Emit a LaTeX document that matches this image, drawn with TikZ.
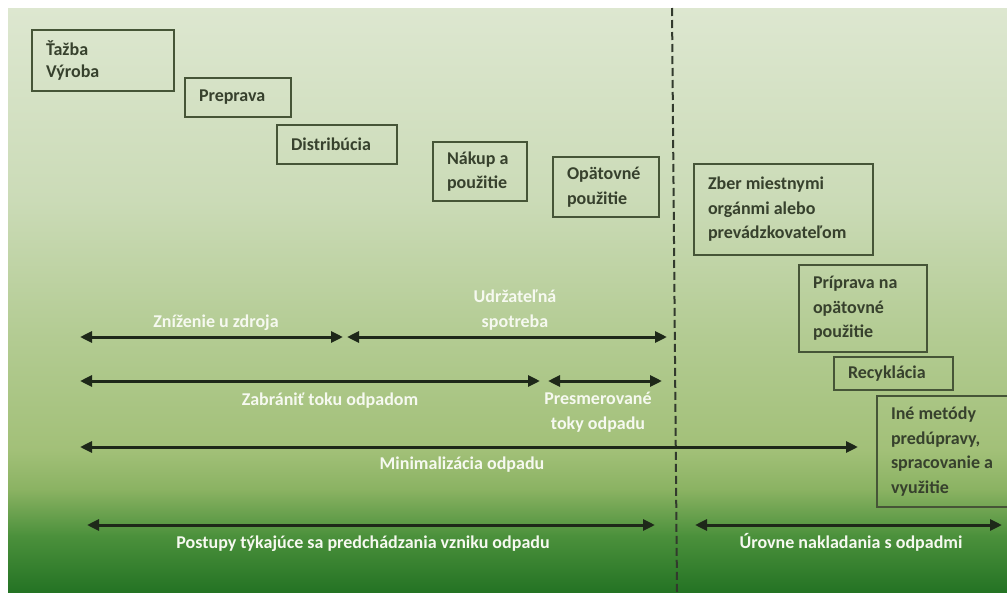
\documentclass[tikz,border=0pt]{standalone}
\usepackage{fontspec}
\setmainfont{Carlito}
\usetikzlibrary{arrows.meta}
\definecolor{g0}{RGB}{221,231,208}
\definecolor{g1}{RGB}{203,219,183}
\definecolor{g2}{RGB}{180,204,148}
\definecolor{g3}{RGB}{162,192,120}
\definecolor{g4}{RGB}{138,178,98}
\definecolor{g5}{RGB}{76,145,60}
\definecolor{g6}{RGB}{36,115,36}
\definecolor{boxc}{RGB}{70,85,55}
\definecolor{boxtext}{RGB}{55,65,45}
\definecolor{arrowc}{RGB}{30,40,25}
\definecolor{divc}{RGB}{50,58,45}
\definecolor{lblc}{RGB}{246,249,240}
\begin{document}
\begin{tikzpicture}[x=1pt,y=-1pt,
  stage/.style={draw=boxc, line width=2pt, anchor=north west, inner xsep=14pt, inner ysep=0pt,
    align=flush left, text=boxtext, font=\fontsize{18}{24.5}\selectfont\bfseries},
  lbl/.style={text=lblc, anchor=base, align=center, font=\fontsize{18}{24.5}\selectfont\bfseries},
  spanarrow/.style={line width=3pt, draw=arrowc, {Triangle[length=12pt,width=11pt]}-{Triangle[length=12pt,width=11pt]}},
  divider/.style={draw=divc, line width=2pt, dash pattern=on 8pt off 4pt}]
\useasboundingbox (0,0) rectangle (1007,592);
\clip (0,0) rectangle (1007,592);
\fill[white] (0,0) rectangle (1007,592);
% background gradient
\shade[top color=g0, bottom color=g1] (8,8) rectangle (1007,200.5);
\shade[top color=g1, bottom color=g2] (8,200) rectangle (1007,330.5);
\shade[top color=g2, bottom color=g3] (8,330) rectangle (1007,450.5);
\shade[top color=g3, bottom color=g4] (8,450) rectangle (1007,490.5);
\shade[top color=g4, bottom color=g5] (8,490) rectangle (1007,535.5);
\shade[top color=g5, bottom color=g6] (8,535) rectangle (1007,592);
% divider
\coordinate (dtop) at (672,8);
\coordinate (dbot) at (677,592);
\draw[divider] (dtop) -- (dbot);
% arrows
\coordinate (a1l) at (80,337);  \coordinate (a1r) at (343,337);
\coordinate (a2l) at (347,337); \coordinate (a2r) at (667,337);
\coordinate (b1l) at (80,381);  \coordinate (b1r) at (540,381);
\coordinate (b2l) at (548,381); \coordinate (b2r) at (662,381);
\coordinate (c1l) at (80,447);  \coordinate (c1r) at (858,447);
\coordinate (d1l) at (87,525);  \coordinate (d1r) at (655,525);
\coordinate (d2l) at (695,525); \coordinate (d2r) at (1002,525);
\draw[spanarrow] (a1l) -- (a1r);
\draw[spanarrow] (a2l) -- (a2r);
\draw[spanarrow] (b1l) -- (b1r);
\draw[spanarrow] (b2l) -- (b2r);
\draw[spanarrow] (c1l) -- (c1r);
\draw[spanarrow] (d1l) -- (d1r);
\draw[spanarrow] (d2l) -- (d2r);
% boxes
\node[stage, text width=114pt, minimum height=61pt, font=\fontsize{18}{22}\selectfont\bfseries] (tazba) at (31,29) {Ťažba\\Výroba};
\node[stage, text width=78pt, minimum height=39pt] (preprava) at (184,77) {Preprava};
\node[stage, text width=92pt, minimum height=39pt] (distr) at (276,124) {Distribúcia};
\node[stage, text width=66pt, minimum height=59pt] (nakup) at (432,141) {Nákup a\\použitie};
\node[stage, text width=78pt, minimum height=60pt] (opat) at (552,156) {Opätovné\\použitie};
\node[stage, text width=151pt, minimum height=91pt] (zber) at (693,163) {Zber miestnymi\\orgánmi alebo\\prevádzkovateľom};
\node[stage, text width=100pt, minimum height=87pt] (pripr) at (798,264) {Príprava na\\opätovné\\použitie};
\node[stage, text width=91pt, minimum height=33pt] (recyk) at (833,356) {Recyklácia};
\node[stage, text width=122pt, minimum height=111pt] (ine) at (876,395) {Iné metódy\\predúpravy,\\spracovanie a\\využitie};
% labels (anchor base = baseline of the last line)
\node[lbl] (zniz) at (216,327) {Zníženie u zdroja};
\node[lbl] (udrz) at (515,327) {Udržateľná\\spotreba};
\node[lbl] (zabr) at (330,405) {Zabrániť toku odpadom};
\node[lbl] (presm) at (598,429) {Presmerované\\toky odpadu};
\node[lbl] (minim) at (462,469) {Minimalizácia odpadu};
\node[lbl] (postup) at (363,548) {Postupy týkajúce sa predchádzania vzniku odpadu};
\node[lbl] (urov) at (851,548) {Úrovne nakladania s odpadmi};
\end{tikzpicture}
\end{document}
